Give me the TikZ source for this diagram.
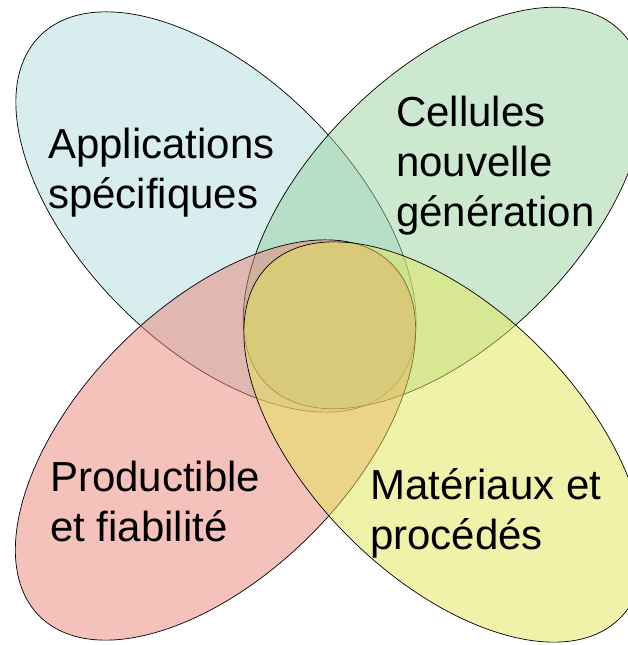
\documentclass[tikz,border=0pt]{standalone}
\usepackage{fontspec}
\setmainfont{Liberation Sans}

\definecolor{appblue}{RGB}{175,219,221}
\definecolor{cellgreen}{RGB}{153,211,161}
\definecolor{prodred}{RGB}{235,131,119}
\definecolor{matyellow}{RGB}{227,229,85}

\begin{document}
\begin{tikzpicture}[
  x=1pt, y=1pt,
  petal/.style={draw=black, line width=0.7pt, fill opacity=0.5},
  petaltext/.style={anchor=base west, align=left, inner sep=0pt, text=black,
    font=\fontsize{42}{50}\selectfont}
]
\useasboundingbox (0,0) rectangle (628,645);
\clip (0,0) rectangle (628,645);

% four petals, later ones sit on top of the earlier ones
\draw[petal, fill=appblue,   rotate around={-45:(216,433)}]   (216,433)   ellipse [x radius=249, y radius=134.5];
\draw[petal, fill=cellgreen, rotate around={45:(444,437)}]    (444,437)   ellipse [x radius=250, y radius=134.5];
\draw[petal, fill=prodred,   rotate around={45:(215.5,205)}]  (215.5,205) ellipse [x radius=249, y radius=134.5];
\draw[petal, fill=matyellow, rotate around={-45:(444,203)}]   (444,203)   ellipse [x radius=249, y radius=134.5];

% one text per petal (anchored on the last line)
\node[petaltext] (apps) at (48,436)  {Applications\\spécifiques};
\node[petaltext] (cell) at (396,418) {Cellules\\nouvelle\\génération};
\node[petaltext] (prod) at (50,103)  {Productible\\et fiabilité};
\node[petaltext] (mat)  at (370,95)  {Matériaux et\\procédés};

\end{tikzpicture}
\end{document}
